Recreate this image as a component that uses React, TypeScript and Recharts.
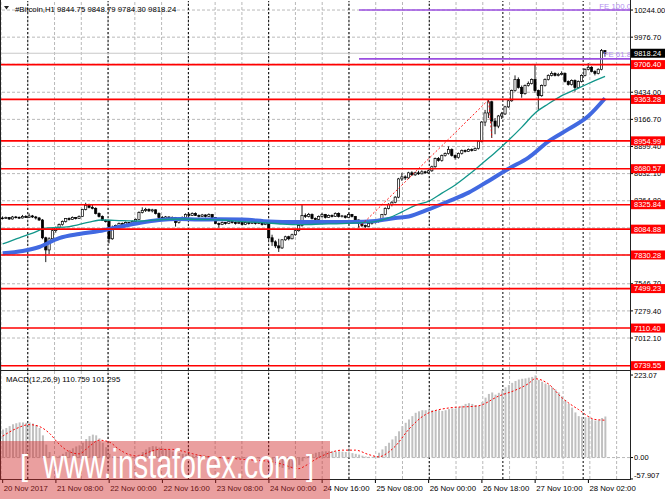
import React from "react";
import { ComposedChart, Bar, Line, XAxis, YAxis, ReferenceLine } from "recharts";

const FONT = '"Liberation Sans", Arial, sans-serif';
const W = 665;
const MAIN_H = 371;
const MACD_H = 128;
const SLOTS = 189;
const AXIS_W = 35;

// H1 candles, 20 Nov 16:00 .. 28 Nov 07:00
const OPEN = [
  8195, 8190, 8200, 8185, 8205, 8200, 8195, 8210, 8200, 8215,
  8205, 8195, 8175, 8000, 7880, 7990, 8070, 8100, 8130, 8160,
  8190, 8180, 8200, 8190, 8210, 8280, 8320, 8300, 8290, 8240,
  8210, 8170, 8160, 7990, 8100, 8120, 8140, 8130, 8150, 8140,
  8160, 8180, 8250, 8270, 8280, 8265, 8275, 8240, 8200, 8190,
  8205, 8190, 8200, 8150, 8190, 8200, 8230, 8220, 8240, 8220,
  8210, 8225, 8210, 8230, 8200, 8140, 8130, 8150, 8140, 8160,
  8150, 8140, 8150, 8130, 8150, 8140, 8155, 8140, 8150, 8130,
  8145, 8000, 7960, 7920, 7900, 7980, 8010, 7990, 8030, 8070,
  8120, 8220, 8210, 8230, 8190, 8180, 8210, 8230, 8200, 8220,
  8210, 8240, 8210, 8215, 8200, 8230, 8210, 8175, 8140, 8120,
  8110, 8140, 8150, 8160, 8175, 8230, 8290, 8330, 8350, 8400,
  8580, 8600, 8590, 8640, 8620, 8640, 8630, 8650, 8640, 8660,
  8700, 8780, 8760, 8810, 8830, 8870, 8810, 8790, 8830, 8860,
  8850, 8870, 8860, 8880, 8950, 9140, 9230, 9340, 9150, 9100,
  9200, 9220, 9290, 9350, 9450, 9560, 9480, 9420, 9500, 9520,
  9560, 9450, 9400, 9500, 9560, 9600, 9620, 9600, 9610, 9620,
  9540, 9510, 9550, 9480, 9540, 9600, 9660, 9680, 9640, 9620,
  9660, 9844.75,
];
const HIGH = [
  8210, 8208, 8205, 8215, 8215, 8210, 8225, 8222, 8240, 8225,
  8215, 8205, 8185, 8010, 8005, 8090, 8110, 8140, 8170, 8195,
  8200, 8210, 8205, 8220, 8285, 8345, 8335, 8330, 8300, 8250,
  8220, 8180, 8165, 8120, 8130, 8150, 8150, 8160, 8155, 8170,
  8190, 8260, 8300, 8295, 8290, 8285, 8280, 8250, 8215, 8215,
  8210, 8210, 8205, 8195, 8210, 8240, 8245, 8250, 8250, 8230,
  8235, 8230, 8240, 8235, 8205, 8150, 8160, 8155, 8170, 8165,
  8160, 8160, 8155, 8160, 8155, 8165, 8160, 8160, 8155, 8155,
  8150, 8030, 7975, 7990, 7985, 8020, 8020, 8040, 8080, 8130,
  8330, 8240, 8245, 8240, 8200, 8220, 8245, 8235, 8230, 8230,
  8250, 8250, 8225, 8220, 8240, 8235, 8215, 8180, 8150, 8130,
  8150, 8160, 8170, 8185, 8235, 8300, 8340, 8360, 8410, 8590,
  8640, 8615, 8650, 8655, 8650, 8660, 8665, 8660, 8670, 8710,
  8790, 8795, 8820, 8840, 8900, 8880, 8820, 8840, 8870, 8870,
  8880, 8880, 8890, 8960, 9150, 9260, 9360, 9350, 9180, 9210,
  9240, 9300, 9360, 9460, 9600, 9580, 9500, 9510, 9540, 9570,
  9712, 9460, 9510, 9570, 9610, 9640, 9630, 9625, 9640, 9630,
  9550, 9560, 9560, 9550, 9610, 9670, 9720, 9690, 9650, 9670,
  9860, 9848.79,
];
const LOW = [
  8180, 8185, 8175, 8180, 8190, 8185, 8190, 8195, 8195, 8195,
  8180, 8165, 7985, 7760, 7840, 7960, 8050, 8090, 8120, 8150,
  8170, 8175, 8180, 8185, 8205, 8270, 8290, 8280, 8230, 8200,
  8165, 8150, 7945, 7980, 8090, 8110, 8120, 8125, 8130, 8135,
  8150, 8175, 8240, 8255, 8255, 8250, 8230, 8195, 8180, 8185,
  8180, 8185, 8110, 8140, 8180, 8195, 8210, 8215, 8215, 8200,
  8205, 8200, 8205, 8195, 8135, 8100, 8125, 8130, 8135, 8140,
  8130, 8135, 8120, 8125, 8130, 8135, 8130, 8135, 8120, 8125,
  7980, 7920, 7900, 7860, 7890, 7970, 7975, 7985, 8020, 8060,
  8110, 8195, 8200, 8180, 8140, 8170, 8200, 8190, 8195, 8200,
  8205, 8200, 8200, 8190, 8195, 8200, 8165, 8100, 8105, 8095,
  8105, 8130, 8140, 8150, 8170, 8220, 8280, 8310, 8340, 8390,
  8560, 8570, 8580, 8610, 8610, 8620, 8625, 8630, 8630, 8650,
  8690, 8750, 8750, 8800, 8820, 8800, 8770, 8780, 8820, 8840,
  8845, 8850, 8855, 8870, 8940, 9100, 9180, 8984, 9020, 9080,
  9170, 9210, 9280, 9340, 9440, 9470, 9380, 9410, 9490, 9510,
  9430, 9260, 9390, 9490, 9550, 9590, 9590, 9590, 9600, 9530,
  9500, 9500, 9440, 9470, 9530, 9590, 9650, 9630, 9600, 9610,
  9650, 9784.3,
];
const CLOSE = [
  8190, 8200, 8185, 8205, 8200, 8195, 8210, 8200, 8215, 8205,
  8195, 8175, 8000, 7880, 7990, 8070, 8100, 8130, 8160, 8190,
  8180, 8200, 8190, 8210, 8280, 8320, 8300, 8290, 8240, 8210,
  8170, 8160, 7990, 8100, 8120, 8140, 8130, 8150, 8140, 8160,
  8180, 8250, 8270, 8280, 8265, 8275, 8240, 8200, 8190, 8205,
  8190, 8200, 8150, 8190, 8200, 8230, 8220, 8240, 8220, 8210,
  8225, 8210, 8230, 8200, 8140, 8130, 8150, 8140, 8160, 8150,
  8140, 8150, 8130, 8150, 8140, 8155, 8140, 8150, 8130, 8145,
  8000, 7960, 7920, 7900, 7980, 8010, 7990, 8030, 8070, 8120,
  8220, 8210, 8230, 8190, 8180, 8210, 8230, 8200, 8220, 8210,
  8240, 8210, 8215, 8200, 8230, 8210, 8175, 8140, 8120, 8110,
  8140, 8150, 8160, 8175, 8230, 8290, 8330, 8350, 8400, 8580,
  8600, 8590, 8640, 8620, 8640, 8630, 8650, 8640, 8660, 8700,
  8780, 8760, 8810, 8830, 8870, 8810, 8790, 8830, 8860, 8850,
  8870, 8860, 8880, 8950, 9140, 9230, 9340, 9150, 9100, 9200,
  9220, 9290, 9350, 9450, 9560, 9480, 9420, 9500, 9520, 9560,
  9450, 9400, 9500, 9560, 9600, 9620, 9600, 9610, 9620, 9540,
  9510, 9550, 9480, 9540, 9600, 9660, 9680, 9640, 9620, 9660,
  9844.75, 9818.24,
];

// moving averages, read at sample bars [bar, price]
const MA_FAST: [number, number][] = [
  [0, 7940], [5, 8000], [9, 8045], [13, 8095], [20, 8110], [26, 8155], [30, 8175],
  [36, 8168], [42, 8165], [48, 8180], [54, 8185], [60, 8180], [66, 8175], [72, 8160],
  [78, 8150], [84, 8135], [90, 8130], [96, 8135], [102, 8140], [108, 8150], [112, 8160],
  [116, 8195], [120, 8255], [124, 8320], [128, 8360], [132, 8440], [136, 8520], [140, 8620],
  [144, 8730], [148, 8840], [152, 8960], [156, 9090], [160, 9230], [164, 9320], [168, 9400],
  [172, 9460], [176, 9520], [181, 9590],
];
const MA_SLOW: [number, number][] = [
  [0, 7847], [6, 7870], [11, 7909], [17, 7997], [23, 8037], [29, 8066], [35, 8106],
  [41, 8145], [47, 8175], [53, 8185], [59, 8180], [65, 8182], [72, 8180], [80, 8160],
  [88, 8155], [98, 8155], [105, 8155], [112, 8165], [118, 8195], [122, 8210], [128, 8280],
  [134, 8360], [140, 8445], [146, 8560], [152, 8680], [158, 8790], [164, 8950], [170, 9070],
  [176, 9200], [181, 9375],
];

// Fibonacci expansion anchors
const FIB_IDX = [107, 146, 147];
const FIB_PRICE = [8100, 9360, 8984];

const LEVELS = [9706.4, 9363.28, 8954.99, 8680.57, 8325.84, 8084.88, 7830.28, 7499.23, 7110.4, 6739.55];
const LAST_PRICE = 9818.24;
// labelled price scale ticks; the other grid rows sit under the red level tags
const PRICE_TICKS = [10244.0, 9976.7, 9434.0, 9166.7, 8899.4, 8632.1, 8364.8, 7546.7, 7279.4, 7012.1];
const PRICE_GRID_ONLY = [9709.4, 8097.5, 7830.2];

// MACD(12,26,9)
const MACD_HIST = [
  76, 80, 85, 90, 93, 95, 95, 94, 95, 92, 88, 80,
  60, 35, 15, 5, 3, 5,
  10, 15, 20, 25, 30, 33,
  40, 50, 58, 62, 60, 52,
  40, 28, 10, 3, 2,
  -2, -3, 0, 2, 1, 3, 8,
  15, 22, 28, 31, 30, 27,
  25, 22, 20, 16, 14, 12, 10, 9,
  8, 6, 5, 6, 5, 4, 3, 2, 0, -2, -3, -3, -2, -3, -4, -3, -2, -3, -4, -3, -2, -3, -2, -3,
  -8, -14, -20, -25, -28, -30, -32, -30, -26,
  -20, -10, -2, 5, 10, 13, 15, 16, 17,
  17, 17, 16, 17, 16, 15, 14, 12, 10,
  8, 5, 3, 2, 2, 3,
  13, 22, 31, 40, 49, 58,
  71, 85, 94, 103,
  112, 121, 125, 128, 128,
  130, 128, 127, 128, 126, 128, 131, 133, 132,
  136, 140, 145, 147, 145, 142, 140,
  150, 162, 172, 176, 170,
  175, 182, 190, 196, 202, 207,
  211, 213, 214, 216, 218, 222, 210, 205, 200, 196, 190, 184, 176, 165, 155, 145, 135,
  122, 112, 110, 109, 108, 104, 100, 101, 107, 111,
];
const MACD_SIGNAL: [number, number][] = [
  [0, 58], [4, 78], [8, 89], [11, 84], [14, 66], [17, 36], [20, 16], [23, 10], [26, 30],
  [29, 47], [32, 42], [35, 22], [38, 8], [41, 4], [44, 15], [47, 22], [51, 22], [55, 15],
  [59, 6], [65, 0], [71, -4], [77, -8], [80, -10], [84, -18], [87, -27], [89, -30],
  [91, -22], [94, -5], [98, 12], [102, 20], [106, 20], [110, 8], [113, 2], [116, 15],
  [118, 31], [122, 76], [127, 116], [134, 134], [143, 140], [149, 166], [154, 182],
  [158, 200], [160, 213], [164, 199], [168, 162], [173, 130], [178, 103], [181, 101],
];
const MACD_TICKS = [223.07, 0, -57.907];
const MACD_TICK_TEXT = ["223.07", "0.00", "-57.907"];

const TIME_IDX = [0, 16, 32, 48, 64, 80, 96, 112, 128, 144, 160, 176];
const TIME_LABELS = [
  "20 Nov 2017", "21 Nov 08:00", "22 Nov 00:00", "22 Nov 16:00", "23 Nov 08:00", "24 Nov 00:00",
  "24 Nov 16:00", "25 Nov 08:00", "26 Nov 00:00", "26 Nov 18:00", "27 Nov 10:00", "28 Nov 02:00",
];
const GRID_IDX = Array.from({ length: 24 }, (_, k) => k * 8);
const DAY_SEP_IDX = [8, 32, 56, 80, 104, 128, 150, 174];

const PRICE_DOMAIN = [6697, 10333];
const MACD_DOMAIN = [-58, 234];
const GRID = "#b9b9b9";
const RED = "#ff0000";

const fastMap = new Map(MA_FAST);
const slowMap = new Map(MA_SLOW);
const sigMap = new Map(MACD_SIGNAL);

const rows = Array.from({ length: SLOTS }, (_, i) => {
  const has = i < CLOSE.length;
  const f = FIB_IDX.indexOf(i);
  return {
    i,
    open: has ? OPEN[i] : null,
    high: has ? HIGH[i] : null,
    low: has ? LOW[i] : null,
    close: has ? CLOSE[i] : null,
    range: has ? [LOW[i], HIGH[i]] : null,
    fast: fastMap.has(i) ? fastMap.get(i) : null,
    slow: slowMap.has(i) ? slowMap.get(i) : null,
    fib: f >= 0 ? FIB_PRICE[f] : null,
    macd: has ? MACD_HIST[i] : null,
    signal: sigMap.has(i) ? sigMap.get(i) : null,
  };
});

const feLevel = (r: number) => FIB_PRICE[2] + r * (FIB_PRICE[1] - FIB_PRICE[0]);

function Candle(props: any) {
  const { x, y, width, height, payload } = props;
  if (!payload || payload.close == null) return null;
  const { open, close, high, low } = payload;
  const top = Math.min(y, y + height);
  const h = Math.abs(height);
  const k = high > low ? h / (high - low) : 0;
  const py = (v: number) => top + (high - v) * k;
  const cx = x + width / 2;
  const bTop = py(Math.max(open, close));
  const bBot = py(Math.min(open, close));
  const up = close >= open;
  return (
    <g>
      <line x1={cx} x2={cx} y1={top} y2={top + h} stroke="#000" strokeWidth={0.9} />
      <rect
        x={cx - 1.1}
        y={bTop}
        width={2.2}
        height={Math.max(bBot - bTop, 0.7)}
        fill={up ? "#fff" : "#000"}
        stroke="#000"
        strokeWidth={0.7}
      />
    </g>
  );
}

function PriceTick(props: any) {
  const { x, y, payload } = props;
  const v = payload.value as number;
  const text = v.toFixed(2);
  const box = LEVELS.includes(v) ? RED : v === LAST_PRICE ? "#000" : null;
  if (box) {
    return (
      <g>
        <rect x={x + 1} y={y - 4.5} width={AXIS_W} height={9} fill={box} />
        <text x={x + 4} y={y + 2.7} fontSize={7.5} fontFamily={FONT} fill="#fff">{text}</text>
      </g>
    );
  }
  return (
    <g>
      <line x1={x} x2={x + 3} y1={y} y2={y} stroke="#000" />
      <text x={x + 4} y={y + 2.7} fontSize={7.5} fontFamily={FONT} fill="#000">{text}</text>
    </g>
  );
}

function MacdTick(props: any) {
  const { x, y, payload } = props;
  const k = MACD_TICKS.indexOf(payload.value);
  const dy = k === 2 ? -1 : 2.7;
  return (
    <g>
      <line x1={x} x2={x + 3} y1={y} y2={y} stroke="#000" />
      <text x={x + 4} y={y + dy} fontSize={7.5} fontFamily={FONT} fill="#000">{MACD_TICK_TEXT[k]}</text>
    </g>
  );
}

function TimeTick(props: any) {
  const { x, y, payload } = props;
  const k = TIME_IDX.indexOf(payload.value);
  if (k < 0) return <g />;
  return (
    <g>
      <line x1={x} x2={x} y1={y} y2={y + 4} stroke="#000" />
      <text x={x + 1} y={y + 12} fontSize={7.8} fontFamily={FONT} fill="#000">{TIME_LABELS[k]}</text>
    </g>
  );
}

function FeLabel(props: any) {
  const vb = props.viewBox || {};
  return (
    <text
      x={vb.x + vb.width + 1}
      y={vb.y - 1.5}
      textAnchor="end"
      fontSize={7.8}
      fontFamily={FONT}
      fill="#b48ef0"
    >
      {props.text}
    </text>
  );
}

const mainMargin = { top: 1, right: 0, bottom: 1, left: 1 };
const macdMargin = { top: 0, right: 0, bottom: 0, left: 1 };

function mainAxes(withTicks: boolean) {
  return [
    <XAxis key="x" dataKey="i" type="category" hide />,
    <YAxis
      key="y"
      orientation="right"
      width={AXIS_W}
      domain={PRICE_DOMAIN}
      allowDataOverflow
      ticks={withTicks ? [...PRICE_TICKS, ...LEVELS, LAST_PRICE] : []}
      interval={0}
      tick={withTicks ? <PriceTick /> : false}
      tickLine={false}
      axisLine={false}
      tickSize={0}
      tickMargin={0}
    />,
  ];
}

function macdAxes(withTicks: boolean) {
  return [
    <XAxis
      key="x"
      dataKey="i"
      type="category"
      height={20}
      interval={0}
      tick={withTicks ? <TimeTick /> : false}
      tickLine={false}
      axisLine={false}
      tickSize={0}
      tickMargin={0}
    />,
    <YAxis
      key="y"
      orientation="right"
      width={AXIS_W}
      domain={MACD_DOMAIN}
      allowDataOverflow
      ticks={withTicks ? MACD_TICKS : []}
      interval={0}
      tick={withTicks ? <MacdTick /> : false}
      tickLine={false}
      axisLine={false}
      tickSize={0}
      tickMargin={0}
    />,
  ];
}

function gridLines(horizontal: number[]) {
  return [
    ...GRID_IDX.map((i) => (
      <ReferenceLine key={"gv" + i} x={i} stroke={GRID} strokeDasharray="3 2" />
    )),
    ...horizontal.map((v) => (
      <ReferenceLine key={"gh" + v} y={v} stroke={GRID} strokeDasharray="3 2" />
    )),
    ...DAY_SEP_IDX.map((i) => (
      <ReferenceLine key={"ds" + i} x={i} stroke="#000" strokeDasharray="2 2" />
    )),
  ];
}

const layer: React.CSSProperties = { position: "absolute", left: 0, top: 0 };

export default function App() {
  return (
    <div
      style={{
        position: "fixed",
        left: 0,
        top: 0,
        width: W,
        height: 499,
        background: "#fff",
        overflow: "hidden",
        fontFamily: FONT,
      }}
    >
      {/* main window: grid */}
      <div style={layer}>
        <ComposedChart width={W} height={MAIN_H} data={rows} margin={mainMargin}>
          {mainAxes(false)}
          {gridLines([...PRICE_TICKS, ...PRICE_GRID_ONLY])}
          <ReferenceLine y={LAST_PRICE} stroke="#c8c8c8" />
        </ComposedChart>
      </div>
      {/* main window: price */}
      <div style={layer}>
        <ComposedChart width={W} height={MAIN_H} data={rows} margin={mainMargin} barCategoryGap={0} barGap={0}>
          {mainAxes(false)}
          <Bar dataKey="range" shape={<Candle />} isAnimationActive={false} />
          <Line dataKey="slow" type="monotone" stroke="#4169e1" strokeWidth={4} dot={false} connectNulls isAnimationActive={false} />
          <Line dataKey="fast" type="monotone" stroke="#11968a" strokeWidth={1.3} dot={false} connectNulls isAnimationActive={false} />
          <Line dataKey="fib" type="linear" stroke={RED} strokeWidth={0.9} strokeDasharray="2 2" dot={false} connectNulls isAnimationActive={false} />
        </ComposedChart>
      </div>
      {/* main window: levels and price scale */}
      <div style={layer}>
        <ComposedChart width={W} height={MAIN_H} data={rows} margin={mainMargin}>
          {mainAxes(true)}
          {LEVELS.map((v) => (
            <ReferenceLine key={"lv" + v} y={v} stroke={RED} strokeWidth={1.6} />
          ))}
          <ReferenceLine
            segment={[{ x: FIB_IDX[0], y: feLevel(1) }, { x: SLOTS - 1, y: feLevel(1) }]}
            stroke="#9b4fe0"
            strokeWidth={1.6}
            label={<FeLabel text="FE 100.0" />}
          />
          <ReferenceLine
            segment={[{ x: FIB_IDX[0], y: feLevel(0.618) }, { x: SLOTS - 1, y: feLevel(0.618) }]}
            stroke="#9b4fe0"
            strokeWidth={1.6}
            label={<FeLabel text="FE 61.8" />}
          />
        </ComposedChart>
      </div>

      {/* MACD window */}
      <div style={{ ...layer, top: MAIN_H }}>
        <ComposedChart width={W} height={MACD_H} data={rows} margin={macdMargin}>
          {macdAxes(false)}
          {gridLines([0])}
        </ComposedChart>
      </div>
      <div style={{ ...layer, top: MAIN_H }}>
        <ComposedChart width={W} height={MACD_H} data={rows} margin={macdMargin} barCategoryGap={0}>
          {macdAxes(true)}
          <Bar dataKey="macd" fill="#c0c0c0" barSize={2} isAnimationActive={false} />
          <Line dataKey="signal" type="monotone" stroke={RED} strokeWidth={1} strokeDasharray="2 2" dot={false} connectNulls isAnimationActive={false} />
        </ComposedChart>
      </div>

      {/* frame, captions, watermark */}
      <svg width={W} height={499} style={{ ...layer, pointerEvents: "none" }}>
        <line x1={0.5} x2={0.5} y1={0} y2={479.5} stroke="#222" />
        <line x1={630.5} x2={630.5} y1={0} y2={479.5} stroke="#222" />
        <line x1={0} x2={631} y1={370.5} y2={370.5} stroke="#222" />
        <line x1={0} x2={631} y1={479.5} y2={479.5} stroke="#222" />
        <polygon points="4,6 9,6 6.5,9.5" fill="#222" />
        <text x={15} y={12} fontSize={7.8} fontFamily={FONT} fill="#000">
          #Bitcoin,H1  9844.75 9848.79 9784.30 9818.24
        </text>
        <text x={6} y={381.5} fontSize={7.8} fontFamily={FONT} fill="#000">
          MACD(12,26,9) 110.759 101.295
        </text>
        <rect x={0} y={441} width={330} height={58} fill="#d02a2a" fillOpacity={0.45} />
        <text x={20} y={476} fontSize={29} fontFamily={FONT} fill="#fff">[</text>
        <text
          x={43}
          y={478}
          fontSize={40}
          fontFamily={FONT}
          fill="#fff"
          textLength={255}
          lengthAdjust="spacingAndGlyphs"
        >
          www.instaforex.com
        </text>
        <text x={306} y={476} fontSize={29} fontFamily={FONT} fill="#fff">]</text>
      </svg>
    </div>
  );
}
